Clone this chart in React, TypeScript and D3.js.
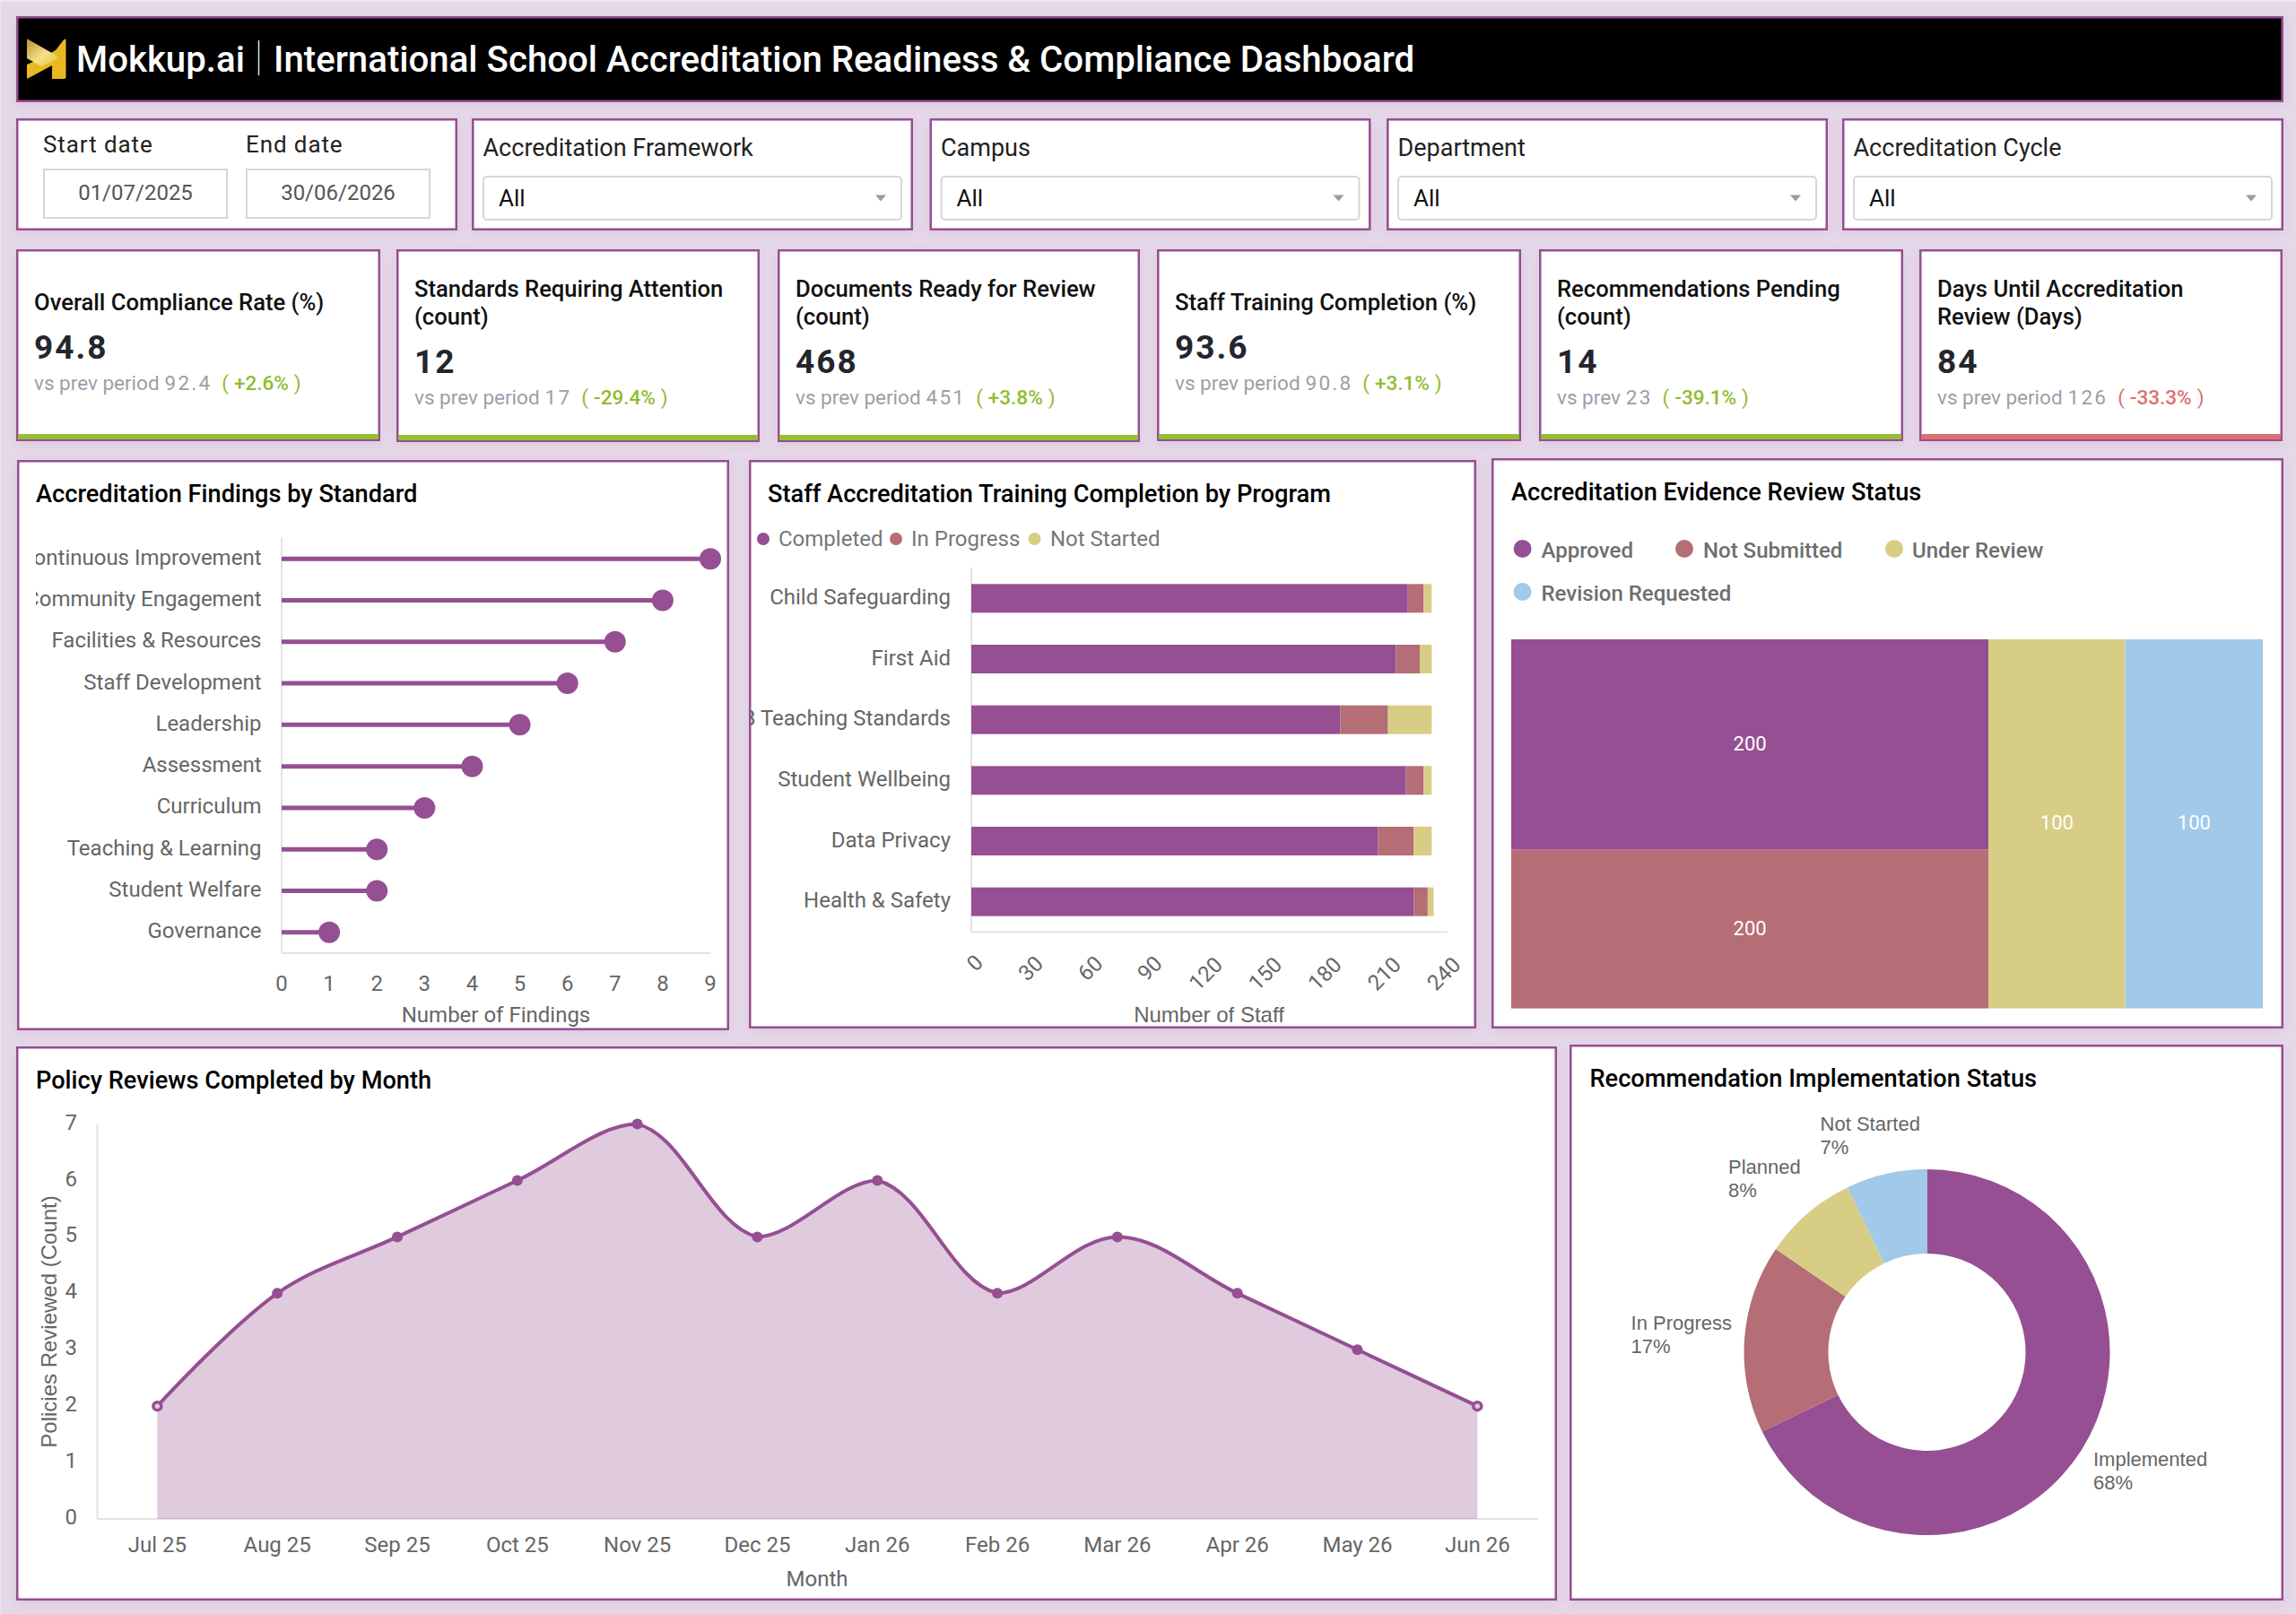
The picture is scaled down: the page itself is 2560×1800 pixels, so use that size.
import * as d3 from "d3";

const purple = "#954F92";
const rose = "#B56D76";
const sand = "#D8CD85";
const sky = "#A0C9EA";
const ROBOTO = "Roboto";
const LIB = "Liberation Sans";

// filters
const filterLabels = ["Accreditation Framework", "Campus", "Department", "Accreditation Cycle"];

// kpis
const kpiTitles = [
  ["Overall Compliance Rate (%)"],
  ["Standards Requiring Attention", "(count)"],
  ["Documents Ready for Review", "(count)"],
  ["Staff Training Completion (%)"],
  ["Recommendations Pending", "(count)"],
  ["Days Until Accreditation", "Review (Days)"],
];
const kpiValues = ["94.8", "12", "468", "93.6", "14", "84"];
const kpiPrevLabel = ["vs prev period", "vs prev period", "vs prev period", "vs prev period", "vs prev", "vs prev period"];
const kpiPrevValue = ["92.4", "17", "451", "90.8", "23", "126"];
const kpiDelta = ["+2.6%", "-29.4%", "+3.8%", "+3.1%", "-39.1%", "-33.3%"];
const kpiGood = [true, true, true, true, true, false];

// findings
const standards = ["Continuous Improvement", "Community Engagement", "Facilities & Resources", "Staff Development", "Leadership", "Assessment", "Curriculum", "Teaching & Learning", "Student Welfare", "Governance"];
const findings = [9, 8, 7, 6, 5, 4, 3, 2, 2, 1];

// training
const programs = ["Child Safeguarding", "First Aid", "IB Teaching Standards", "Student Wellbeing", "Data Privacy", "Health & Safety"];
const completed = [220, 214, 186, 219, 205, 223];
const inProgress = [8, 12, 24, 9, 18, 7];
const notStarted = [4, 6, 22, 4, 9, 3];
const staffTicks = [0, 30, 60, 90, 120, 150, 180, 210, 240];

// evidence
const evidenceNames = ["Approved", "Not Submitted", "Under Review", "Revision Requested"];
const evidenceLabels = ["200", "200", "100", "100"];
const evidenceAreas = [362, 273, 182, 183];
const evidenceColors = [purple, rose, sand, sky];

// policy reviews
const months = ["Jul 25", "Aug 25", "Sep 25", "Oct 25", "Nov 25", "Dec 25", "Jan 26", "Feb 26", "Mar 26", "Apr 26", "May 26", "Jun 26"];
const reviews = [2, 4, 5, 6, 7, 5, 6, 4, 5, 4, 3, 2];

// recommendations
const recNames = ["Implemented", "In Progress", "Planned", "Not Started"];
const recCounts = [57, 14, 7, 6];
const recColors = [purple, rose, sand, sky];

const smoothness = 0.35;

// same smoothing the original chart lib uses: catmull-like, control points clamped to the segment
function clampedSmooth(context: any) {
  let pts: number[][] = [];
  let area = NaN;
  const clamp = (v: number, a: number, b: number) => Math.max(Math.min(a, b), Math.min(Math.max(a, b), v));
  return {
    areaStart() { area = 0; },
    areaEnd() { area = NaN; },
    lineStart() { pts = []; },
    point(x: number, y: number) { pts.push([x, y]); },
    lineEnd() {
      pts.forEach((p, i) => {
        if (i === 0) {
          if (area === 1) context.lineTo(p[0], p[1]);
          else context.moveTo(p[0], p[1]);
          return;
        }
        const q = pts[i - 1];
        const ctrl = (c: number[], prev: number[] | undefined, next: number[] | undefined, other: number[], sign: number) => {
          if (!prev || !next) return c;
          const vx = next[0] - prev[0];
          const vy = next[1] - prev[1];
          const d0 = Math.hypot(c[0] - prev[0], c[1] - prev[1]);
          const d1 = Math.hypot(next[0] - c[0], next[1] - c[1]);
          const r = sign > 0 ? d1 / (d0 + d1) : d0 / (d0 + d1);
          return [
            clamp(c[0] + sign * vx * smoothness * r, c[0], other[0]),
            clamp(c[1] + sign * vy * smoothness * r, c[1], other[1]),
          ];
        };
        const c1 = ctrl(q, pts[i - 2], p, p, 1);
        const c2 = ctrl(p, q, pts[i + 1], q, -1);
        context.bezierCurveTo(c1[0], c1[1], c2[0], c2[1], p[0], p[1]);
      });
      if (area === 0) area = 1;
      else if (area === 1) { context.closePath(); area = 0; }
    },
  };
}

function T({ x, y, s = 24, c = "#666", w = 400, a = "start", f = ROBOTO, ls = 0, children, ...rest }: any) {
  return (
    <text x={x} y={y} fontSize={s} fill={c} fontWeight={w} textAnchor={a} fontFamily={f} letterSpacing={ls} dominantBaseline="central" {...rest}>
      {children}
    </text>
  );
}

function Card({ x0, y0, x1, y1, fill = "#fff" }: any) {
  return <rect x={x0 + 1.25} y={y0 + 1.25} width={x1 - x0 - 2.5} height={y1 - y0 - 2.5} fill={fill} stroke={purple} strokeWidth={2.5} filter="url(#soft)" />;
}

function Header() {
  return (
    <g>
      <Card x0={18} y0={18} x1={2546} y1={114} fill="#000" />
      <path d="M73.5 44V85.5Q73.5 88 71 88H58V73L31 87.5Q30 88 30 86V72L48 64L62 56L71 44.5Q73.5 43 73.5 44Z" fill="#E8B923" />
      <path d="M30 44Q30 43 31.5 44L63 62Q65 64.5 63 66.5L46 74L30 65Z" fill="url(#logoShine)" />
      <T x={85} y={66} s={40.2} c="#fff" w={500}>Mokkup.ai</T>
      <line x1={288.5} x2={288.5} y1={45} y2={84} stroke="#cfe6f5" strokeWidth={1.5} />
      <T x={305} y={66} s={40.2} c="#fff" w={500}>International School Accreditation Readiness &amp; Compliance Dashboard</T>
    </g>
  );
}

function Filters() {
  const dropX = [526, 1036.5, 1546, 2054];
  return (
    <g>
      <Card x0={18} y0={132} x1={510} y1={257} />
      <T x={48} y={161} s={26} c="#222" ls={0.9}>Start date</T>
      <T x={274} y={161} s={26} c="#222" ls={0.9}>End date</T>
      {[["01/07/2025", 48], ["30/06/2026", 274]].map(([d, x]: any) => (
        <g key={d}>
          <rect x={x + 1} y={189} width={204} height={54} fill="#fff" stroke="#d6d6d6" strokeWidth={2} />
          <T x={x + 103} y={215} s={24} c="#555" a="middle">{d}</T>
        </g>
      ))}
      {filterLabels.map((label, i) => {
        const x = dropX[i];
        return (
          <g key={label}>
            <Card x0={x} y0={132} x1={x + 492} y1={257} />
            <T x={x + 12.5} y={165} s={27} c="#222">{label}</T>
            <rect x={x + 13} y={197} width={466} height={48} rx={4} fill="#fff" stroke="#d6d6d6" strokeWidth={2} />
            <T x={x + 30} y={221} s={26} c="#111">All</T>
            <path d={`M${x + 450} 217.5h12l-6 7z`} fill="#9a9ba6" />
          </g>
        );
      })}
    </g>
  );
}

function Kpis() {
  const xs = [[18, 424, 492], [442, 847, 493], [867, 1271, 493], [1290, 1696, 492], [1716, 2122, 492], [2140, 2545, 492]];
  return (
    <g>
      {kpiValues.map((v, i) => {
        const [x0, x1, y1] = xs[i];
        const two = kpiTitles[i].length > 1;
        const color = kpiGood[i] ? "#8FBC2F" : "#DC6F6F";
        return (
          <g key={i}>
            <Card x0={x0} y0={278} x1={x1} y1={y1} />
            <rect x={x0 + 2} y={y1 - 8} width={x1 - x0 - 4} height={6} fill={kpiGood[i] ? "#96BE32" : "#DC6F6F"} />
            {kpiTitles[i].map((line, k) => (
              <T key={line} x={x0 + 20} y={two ? 322 + k * 31 : 337} s={25.6} c="#111" w={500}>{line}</T>
            ))}
            <T x={x0 + 20} y={two ? 403 : 387} s={37} c="#24262d" w={700} ls={2}>{v}</T>
            <T x={x0 + 20} y={two ? 443 : 427} s={22.5} c="#9aa0a8">
              {kpiPrevLabel[i]}
              <tspan dx={6} letterSpacing={2.2}>{kpiPrevValue[i]}</tspan>
              <tspan fill={color} dx={11}>(</tspan>
              <tspan fill={color} dx={6} fontWeight={500}>{kpiDelta[i]}</tspan>
              <tspan fill={color} dx={6}>)</tspan>
            </T>
          </g>
        );
      })}
    </g>
  );
}

function Findings() {
  const x = d3.scaleLinear().domain([0, 9]).range([314, 792]);
  const y = d3.scaleBand().domain(standards).range([600, 1063]);
  return (
    <g>
      <Card x0={19} y0={513} x1={813} y1={1149} />
      <T x={40} y={550.5} s={27.2} c="#000" w={500}>Accreditation Findings by Standard</T>
      <line x1={314} x2={314} y1={600} y2={1063} stroke="#e3e3e3" strokeWidth={2} />
      <line x1={314} x2={792} y1={1063} y2={1063} stroke="#e3e3e3" strokeWidth={2} />
      <g clipPath="url(#clipFindings)">
        {standards.map((s) => (
          <T key={s} x={291.5} y={y(s)! + y.bandwidth() / 2 - 1.5} s={24} a="end">{s}</T>
        ))}
      </g>
      {standards.map((s, i) => {
        const cy = y(s)! + y.bandwidth() / 2;
        return (
          <g key={s}>
            <line x1={x(0)} x2={x(findings[i])} y1={cy} y2={cy} stroke={purple} strokeWidth={5} />
            <circle cx={x(findings[i])} cy={cy} r={12} fill={purple} />
          </g>
        );
      })}
      {x.ticks(9).map((t) => (
        <T key={t} x={x(t)} y={1097} s={24} a="middle">{t}</T>
      ))}
      <T x={553} y={1132} s={24} a="middle">Number of Findings</T>
    </g>
  );
}

function Training() {
  const x = d3.scaleLinear().domain([0, 240]).range([1083, 1614]);
  const y = d3.scaleBand().domain(programs).range([633.5, 1039.5]);
  const rows = programs.map((p, i) => ({ p, completed: completed[i], inProgress: inProgress[i], notStarted: notStarted[i] }));
  const layers = d3.stack<any>().keys(["completed", "inProgress", "notStarted"])(rows);
  const colors = [purple, rose, sand];
  const legend = [["Completed", 851, 868], ["In Progress", 999, 1016], ["Not Started", 1153.5, 1171]];
  return (
    <g>
      <Card x0={835} y0={513} x1={1646} y1={1147} />
      <T x={856} y={550.5} s={27.2} c="#000" w={500}>Staff Accreditation Training Completion by Program</T>
      {legend.map(([name, cx, tx]: any, i) => (
        <g key={name}>
          <circle cx={cx} cy={601} r={7} fill={colors[i]} />
          <T x={tx} y={600.5} s={24} c="#777">{name}</T>
        </g>
      ))}
      <line x1={1083} x2={1083} y1={633} y2={1039.5} stroke="#e3e3e3" strokeWidth={2} />
      <line x1={1083} x2={1614} y1={1039.5} y2={1039.5} stroke="#e3e3e3" strokeWidth={2} />
      <g clipPath="url(#clipTraining)">
        {programs.map((p) => (
          <T key={p} x={1060} y={y(p)! + y.bandwidth() / 2 - 1.5} s={24} a="end">{p}</T>
        ))}
      </g>
      {layers.map((layer, k) => (
        <g key={layer.key} fill={colors[k]}>
          {layer.map((d: any) => (
            <rect key={d.data.p} x={x(d[0])} width={x(d[1]) - x(d[0])} y={y(d.data.p)! + y.bandwidth() / 2 - 16} height={32} />
          ))}
        </g>
      ))}
      {staffTicks.map((t) => {
        const n = String(t).length;
        const tx = x(t) + 8 - 4 * n;
        const ty = 1068 + 6 * n;
        return <T key={t} x={tx} y={ty} s={24} a="middle" transform={`rotate(-45 ${tx} ${ty})`}>{t}</T>;
      })}
      <T x={1348} y={1131} s={24} a="middle" f={LIB}>Number of Staff</T>
    </g>
  );
}

function Evidence() {
  const root = d3
    .hierarchy<any>({
      children: [
        { side: "left", children: [{ i: 0, value: evidenceAreas[0] }, { i: 1, value: evidenceAreas[1] }] },
        { side: "right", children: [{ i: 2, value: evidenceAreas[2] }, { i: 3, value: evidenceAreas[3] }] },
      ],
    })
    .sum((d) => d.value || 0);
  const tile = (node: any, x0: number, y0: number, x1: number, y1: number) => {
    if (node.data.side === "left") d3.treemapSlice(node, x0, y0, x1, y1);
    else d3.treemapDice(node, x0, y0, x1, y1);
  };
  d3.treemap<any>().tile(tile).size([838, 411.6])(root);
  const legend = [[1697.6, 612, 1718.5], [1878, 612, 1899], [2112, 612, 2132], [1697.6, 660, 1718.5]];
  return (
    <g>
      <Card x0={1663} y0={511} x1={2546} y1={1147} />
      <T x={1685} y={548.5} s={27.2} c="#000" w={500}>Accreditation Evidence Review Status</T>
      {evidenceNames.map((n, i) => (
        <g key={n}>
          <circle cx={legend[i][0]} cy={legend[i][1]} r={10} fill={evidenceColors[i]} />
          <T x={legend[i][2]} y={legend[i][1] + 1.5} s={24} c="#6e6e6e" w={500}>{n}</T>
        </g>
      ))}
      <g transform="translate(1685,713)">
        {root.leaves().map((d: any) => (
          <g key={d.data.i}>
            <rect x={d.x0} y={d.y0} width={d.x1 - d.x0} height={d.y1 - d.y0} fill={evidenceColors[d.data.i]} />
            <T x={(d.x0 + d.x1) / 2} y={(d.y0 + d.y1) / 2 - 1} s={22} c="#fff" a="middle">{evidenceLabels[d.data.i]}</T>
          </g>
        ))}
      </g>
    </g>
  );
}

function Reviews() {
  const x = d3.scalePoint().domain(months).range([175.4, 1647.3]);
  const y = d3.scaleLinear().domain([0, 7]).range([1694, 1253.6]);
  const line = d3.line<number>().x((_, i) => x(months[i])!).y((d) => y(d)).curve(clampedSmooth as any);
  const area = d3.area<number>().x((_, i) => x(months[i])!).y0(y(0)).y1((d) => y(d)).curve(clampedSmooth as any);
  return (
    <g>
      <Card x0={18} y0={1167} x1={1736} y1={1785} />
      <T x={40} y={1204.5} s={27.2} c="#000" w={500}>Policy Reviews Completed by Month</T>
      <line x1={108.5} x2={108.5} y1={1253.6} y2={1694} stroke="#e3e3e3" strokeWidth={2} />
      <line x1={108.5} x2={1715} y1={1694} y2={1694} stroke="#e3e3e3" strokeWidth={2} />
      <path d={area(reviews)!} fill={purple} fillOpacity={0.3} />
      <path d={line(reviews)!} fill="none" stroke={purple} strokeWidth={4} />
      {reviews.map((v, i) => {
        const edge = i === 0 || i === reviews.length - 1;
        return <circle key={i} cx={x(months[i])} cy={y(v)} r={edge ? 4.5 : 6} fill={edge ? "#dfcadd" : purple} stroke={purple} strokeWidth={edge ? 3.5 : 0} />;
      })}
      {y.ticks(7).map((t) => (
        <T key={t} x={86} y={y(t) - 2} s={24} a="end">{t}</T>
      ))}
      {months.map((m) => (
        <T key={m} x={x(m)} y={1723} s={24} a="middle">{m}</T>
      ))}
      <T x={911} y={1760.5} s={24} a="middle">Month</T>
      <T x={54} y={1474} s={24} a="middle" f={LIB} transform="rotate(-90 54 1474)">Policies Reviewed (Count)</T>
    </g>
  );
}

function Recommendations() {
  const total = d3.sum(recCounts);
  const arcs = d3.pie<number>().sort(null)(recCounts);
  const arc = d3.arc<any>().innerRadius(110).outerRadius(204);
  const labelPos = [[2334, 1627.6], [1818.6, 1475], [1927, 1301], [2029.6, 1253.6]];
  return (
    <g>
      <Card x0={1750} y0={1165} x1={2546} y1={1785} />
      <T x={1772.5} y={1203} s={27.2} c="#000" w={500}>Recommendation Implementation Status</T>
      <g transform="translate(2148.5,1508)">
        {arcs.map((d, i) => (
          <path key={i} d={arc(d)!} fill={recColors[i]} />
        ))}
      </g>
      {recNames.map((n, i) => (
        <g key={n}>
          <T x={labelPos[i][0]} y={labelPos[i][1]} s={22} f={LIB}>{n}</T>
          <T x={labelPos[i][0]} y={labelPos[i][1] + 26} s={22} f={LIB}>{Math.round((recCounts[i] / total) * 100)}%</T>
        </g>
      ))}
    </g>
  );
}

export default function App() {
  return (
    <svg width={2560} height={1800} viewBox="0 0 2560 1800" style={{ position: "absolute", left: 0, top: 0, display: "block" }}>
      <defs>
        <filter id="soft" x="-5%" y="-10%" width="110%" height="125%">
          <feDropShadow dx={0} dy={3} stdDeviation={6} floodColor="#954F92" floodOpacity={0.12} />
        </filter>
        <linearGradient id="logoShine" x1="0" y1="0" x2="1" y2="1">
          <stop offset="0" stopColor="#B8912A" />
          <stop offset="0.55" stopColor="#F6E08A" />
          <stop offset="1" stopColor="#E8C23A" />
        </linearGradient>
        <clipPath id="clipFindings"><rect x={40} y={590} width={280} height={480} /></clipPath>
        <clipPath id="clipTraining"><rect x={836} y={620} width={250} height={430} /></clipPath>
      </defs>
      <rect width={2560} height={1800} fill="#e9e9e9" />
      <rect x={1} y={2} width={2559} height={1798} fill="#E5D8E8" />
      <Header />
      <Filters />
      <Kpis />
      <Findings />
      <Training />
      <Evidence />
      <Reviews />
      <Recommendations />
    </svg>
  );
}
